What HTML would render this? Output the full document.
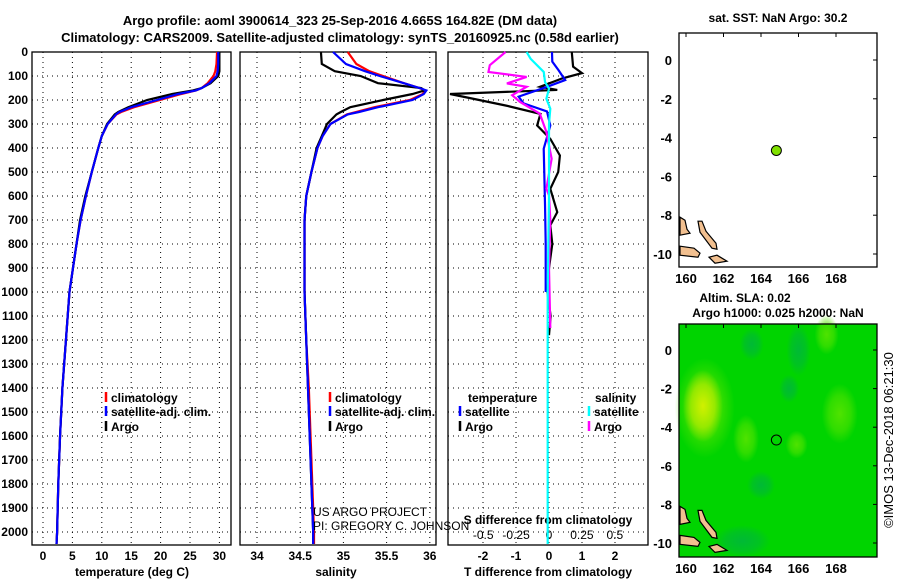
<!DOCTYPE html>
<html><head><meta charset="utf-8"><style>
body{margin:0;background:#fff}
svg{display:block;font-family:"Liberation Sans",sans-serif}
text{font-weight:bold;font-size:12px}
</style></head><body>
<svg id="s" width="900" height="580" viewBox="0 0 900 580">
<text x="340" y="25" text-anchor="middle" style="font-size:13px">Argo profile: aoml 3900614_323 25-Sep-2016 4.665S 164.82E (DM data)</text>
<text x="340" y="42" text-anchor="middle" style="font-size:13px">Climatology: CARS2009. Satellite-adjusted climatology: synTS_20160925.nc (0.58d earlier)</text>
<g id="g"></g>
</svg>
<script>
const depth=[0,50,80,100,130,150,160,175,200,230,250,260,300,350,400,500,600,700,800,900,1000,1100,1200,1400,1600,1800,2000,2050];
const tempArgo=[30.0,30.0,30.0,29.8,28.5,27.0,25.5,22.0,17.7,14.5,12.8,12.2,10.9,10.0,9.4,8.3,7.2,6.3,5.7,5.1,4.5,4.2,3.9,3.3,2.9,2.6,2.4,2.3];
const tempClim=[29.6,29.5,29.3,29.0,28.0,27.0,26.0,23.5,19.9,15.5,13.3,12.5,11.0,10.0,9.4,8.3,7.3,6.4,5.7,5.1,4.5,4.2,3.9,3.3,2.9,2.6,2.4,2.3];
const tempSat=[29.8,29.8,29.7,29.5,28.3,27.0,26.0,23.0,19.4,15.0,13.0,12.4,11.0,10.0,9.4,8.3,7.3,6.4,5.7,5.1,4.5,4.2,3.9,3.3,2.9,2.6,2.4,2.3];
const salArgo=[34.74,34.75,34.9,35.2,35.4,35.9,35.94,35.8,35.46,35.08,34.97,34.92,34.81,34.75,34.69,34.63,34.57,34.55,34.55,34.55,34.55,34.56,34.57,34.59,34.61,34.63,34.65,34.65];
const salClim=[35.05,35.15,35.3,35.46,35.7,35.88,35.94,35.92,35.77,35.36,35.15,35.04,34.85,34.76,34.7,34.63,34.57,34.55,34.55,34.55,34.55,34.56,34.57,34.6,34.62,34.64,34.66,34.66];
const salSat=[34.88,35.03,35.25,35.42,35.7,35.88,35.96,35.93,35.8,35.4,35.18,35.05,34.85,34.76,34.7,34.63,34.57,34.55,34.55,34.55,34.55,34.56,34.57,34.59,34.61,34.63,34.65,34.65];
const dTArgoDepth=[0,61,88,110,145,158,175,189,224,258,306,362,431,500,570,667,722,800,900,1000,1100,1180];
const dTArgo=[0.69,0.73,1.0,0.4,-0.27,0.25,-3.0,-2.5,-1.28,-0.26,-0.36,0.04,0.33,0.28,0.04,0.25,0.04,0.1,0.0,-0.05,0.05,0.0];
const dTSatDepth=[0,40,76,117,145,186,214,248,306,403,640,800,1000];
const dTSat=[0.09,0.1,0.29,0.49,-0.06,-0.92,-0.77,-0.06,0.04,-0.16,-0.12,-0.1,-0.1];
const dSArgoDepth=[0,55,83,104,131,145,180,208,257,333,445,570,597,700,900,1150];
const dSArgo=[-0.33,-0.45,-0.46,-0.17,-0.32,-0.17,-0.28,-0.22,-0.07,-0.02,0.02,-0.02,0.0,0.01,0.0,0.01];
const dSSatDepth=[0,28,83,125,153,195,236,300,600,1000,1500,2050];
const dSSat=[-0.17,-0.14,-0.04,-0.03,0.0,-0.02,0.01,0.0,0.0,-0.01,-0.01,-0.01];
const depthTicks=[0,100,200,300,400,500,600,700,800,900,1000,1100,1200,1300,1400,1500,1600,1700,1800,1900,2000];
const tTicks=[0,5,10,15,20,25,30];
const sTicks=[34,34.5,35,35.5,36];
const dTTicks=[-2,-1,0,1,2];
const dSTicks=["-0.5","-0.25","0","0.25","0.5"];
const latTicks=[0,-2,-4,-6,-8,-10];
const lonTicks=[160,162,164,166,168];
const argoPos=[164.82,-4.665];

const NS='http://www.w3.org/2000/svg',G=document.getElementById('g');
function el(t,a,p){const e=document.createElementNS(NS,t);for(const k in a)e.setAttribute(k,a[k]);(p||G).appendChild(e);return e}
const Y=d=>52+d*0.24, YB=545;
const xT=v=>43+v*5.88, xS=v=>257+(v-34)*86.4, xDT=v=>549+v*33, xDS=v=>549+v*131.6;
function frame(x0,x1,name){
  const r=el('rect',{x:x0,y:52,width:x1-x0,height:YB-52,fill:'none',stroke:'#000','stroke-width':1.3});
  
  depthTicks.forEach(d=>{const l=el('line',{x1:x0,x2:x1,y1:Y(d),y2:Y(d),stroke:'#000','stroke-dasharray':'1 4','stroke-width':1});
    });
}
function vgrid(xs,name){xs.forEach(x=>{const l=el('line',{x1:x,x2:x,y1:52,y2:YB,stroke:'#000','stroke-dasharray':'1 4'});
  });}
function line(ds,vs,fx,col,name,w){const p=el('polyline',{points:ds.map((d,i)=>fx(vs[i])+','+Y(d)).join(' '),fill:'none',stroke:col,'stroke-width':w||2.2});
  }
function txt(x,y,s,anc,name,extra){const t=el('text',Object.assign({x:x,y:y,'text-anchor':anc||'start'},extra||{}));t.textContent=s;
  return t;}
function legend(x,y,col,s,name){const l=el('line',{x1:x,x2:x,y1:y-10,y2:y,stroke:col,'stroke-width':2.5});
  txt(x+5,y,s,'start',name);}

frame(32,231,'temperature-panel');
vgrid(tTicks.map(xT),'temperature-gridline');
depthTicks.forEach(d=>txt(28,Y(d)+4,String(d),'end','depth-tick-label'));
tTicks.forEach(v=>txt(xT(v),560,String(v),'middle','temperature-tick-label'));
txt(132,576,'temperature (deg C)','middle','x-axis-title-temperature');
line(depth,tempClim,xT,'#f00','temp-climatology-line');
line(depth,tempArgo,xT,'#000','temp-argo-line');
line(depth,tempSat,xT,'#00f','temp-satellite-line');
legend(106,402,'#f00','climatology','legend-climatology');
legend(106,416,'#00f','satellite-adj. clim.','legend-satellite');
legend(106,431,'#000','Argo','legend-argo');

frame(240,436,'salinity-panel');
vgrid(sTicks.map(xS),'salinity-gridline');
sTicks.forEach(v=>txt(xS(v),560,String(v),'middle','salinity-tick-label'));
txt(336,576,'salinity','middle','x-axis-title-salinity');
line(depth,salClim,xS,'#f00','sal-climatology-line');
line(depth,salArgo,xS,'#000','sal-argo-line');
line(depth,salSat,xS,'#00f','sal-satellite-line');
legend(330,402,'#f00','climatology','legend-sal-climatology');
legend(330,416,'#00f','satellite-adj. clim.','legend-sal-satellite');
legend(330,431,'#000','Argo','legend-sal-argo');
txt(313,516,'US ARGO PROJECT','start','project-credit',{style:'font-weight:normal'});
txt(313,530,'PI: GREGORY C. JOHNSON','start','pi-credit',{style:'font-weight:normal'});

frame(448,648,'difference-panel');
vgrid(dTTicks.map(xDT),'difference-gridline');
dTTicks.forEach(v=>txt(xDT(v),560,String(v),'middle','t-diff-tick-label'));
dSTicks.forEach(v=>txt(xDS(+v),539,v,'middle','s-diff-tick-label',{style:'font-weight:normal'}));
txt(548,524,'S difference from climatology','middle','s-diff-axis-title');
txt(548,576,'T difference from climatology','middle','t-diff-axis-title');
line(dTArgoDepth,dTArgo,xDT,'#000','dt-argo-line');
line(dTSatDepth,dTSat,xDT,'#00f','dt-satellite-line');
line(dSArgoDepth,dSArgo,xDS,'#f0f','ds-argo-line');
line(dSSatDepth,dSSat,xDS,'#0ff','ds-satellite-line');
txt(468,402,'temperature','start','legend-temperature-heading');
legend(460,416,'#00f','satellite','legend-dt-satellite');
legend(460,431,'#000','Argo','legend-dt-argo');
txt(595,402,'salinity','start','legend-salinity-heading');
legend(589,416,'#0ff','satellite','legend-ds-satellite');
legend(589,431,'#f0f','Argo','legend-ds-argo');

function map(lat0,latScale,lonX){
  const lx=v=>lonX+(v-160)*18.75, ly=v=>lat0-v*latScale;
  return {lx,ly};
}
const m1=map(60,19.4,686);
const m2=map(350,19.3,686);
const defs=el('defs',{});
function rg(id,col,op){const g=el('radialGradient',{id:id},defs);el('stop',{offset:'0','stop-color':col,'stop-opacity':op},g);el('stop',{offset:'0.6','stop-color':col,'stop-opacity':op*0.6},g);el('stop',{offset:'1','stop-color':col,'stop-opacity':0},g);}
rg('yb','#d0f000',1);rg('lb','#58e400',0.9);rg('db','#00b048',0.75);
const bg=el('rect',{x:679,y:324,width:198,height:233,fill:'#00d400'});

[['lb',m2.lx(161),m2.ly(-3),30,50],['yb',m2.lx(160.9),m2.ly(-2.9),20,36],['lb',m2.lx(163.2),m2.ly(-4.6),13,24],['lb',m2.lx(165.9),m2.ly(-4.9),11,14],['lb',m2.lx(168.2),m2.ly(-3.3),18,30],['lb',m2.lx(167.5),m2.ly(0.8),12,20],['db',m2.lx(166),m2.ly(0),12,26],['db',m2.lx(163),m2.ly(-9.9),28,16],['db',m2.lx(164),m2.ly(-7),14,14],['db',m2.lx(163.5),m2.ly(0.3),12,16],['db',m2.lx(165.5),m2.ly(-2),10,14]]
 .forEach(b=>{const e=el('ellipse',{cx:b[1],cy:b[2],rx:b[3],ry:b[4],fill:'url(#'+b[0]+')'});});
[[33,267,m1,'sst-map'],[324,557,m2,'sla-map']].forEach(([t,b,m,n])=>{
  const r=el('rect',{x:679,y:t,width:198,height:b-t,fill:'none',stroke:'#000','stroke-width':1.3});
  
  latTicks.forEach(v=>{txt(672,m.ly(v)+5,String(v),'end',n+'-lat-label',{style:'font-size:13px'});
    el('line',{x1:877,x2:873,y1:m.ly(v),y2:m.ly(v),stroke:'#000'});});
  lonTicks.forEach(v=>{txt(m.lx(v),b+16,String(v),'middle',n+'-lon-label',{style:'font-size:13px'});
    el('line',{x1:m.lx(v),x2:m.lx(v),y1:t,y2:t+4,stroke:'#000'});});
  const oy=m.ly(-8);
  [`M680,${oy+31} l14,2 l6,5 l-2,4 l-18,-2z`,`M698,${oy+6} l4,0 l4,10 l10,12 l1,6 l-5,-1 l-12,-16z`,`M680,${oy+2} l5,3 l2,9 l3,4 l-10,2z`,`M709,${oy+42} l8,-2 l10,6 l-12,2z`]
   .forEach(p=>{const e=el('path',{d:p,fill:'#f2c090',stroke:'#000','stroke-width':1.2});});
});
txt(778,22,'sat. SST: NaN Argo: 30.2','middle','sst-map-title');
txt(745,302,'Altim. SLA: 0.02','middle','sla-map-title');
txt(778,317,'Argo h1000: 0.025 h2000: NaN','middle','sla-map-subtitle');
const p1=el('circle',{cx:m1.lx(argoPos[0]),cy:m1.ly(argoPos[1]),r:5,fill:'#80e000',stroke:'#000'});

const p2=el('circle',{cx:m2.lx(argoPos[0]),cy:m2.ly(argoPos[1]),r:5,fill:'none',stroke:'#000'});

txt(893,440,'©IMOS 13-Dec-2018 06:21:30','middle','copyright-stamp',{transform:'rotate(-90 893 440)',style:'font-weight:normal;font-size:13px'});
</script>
</body></html>
